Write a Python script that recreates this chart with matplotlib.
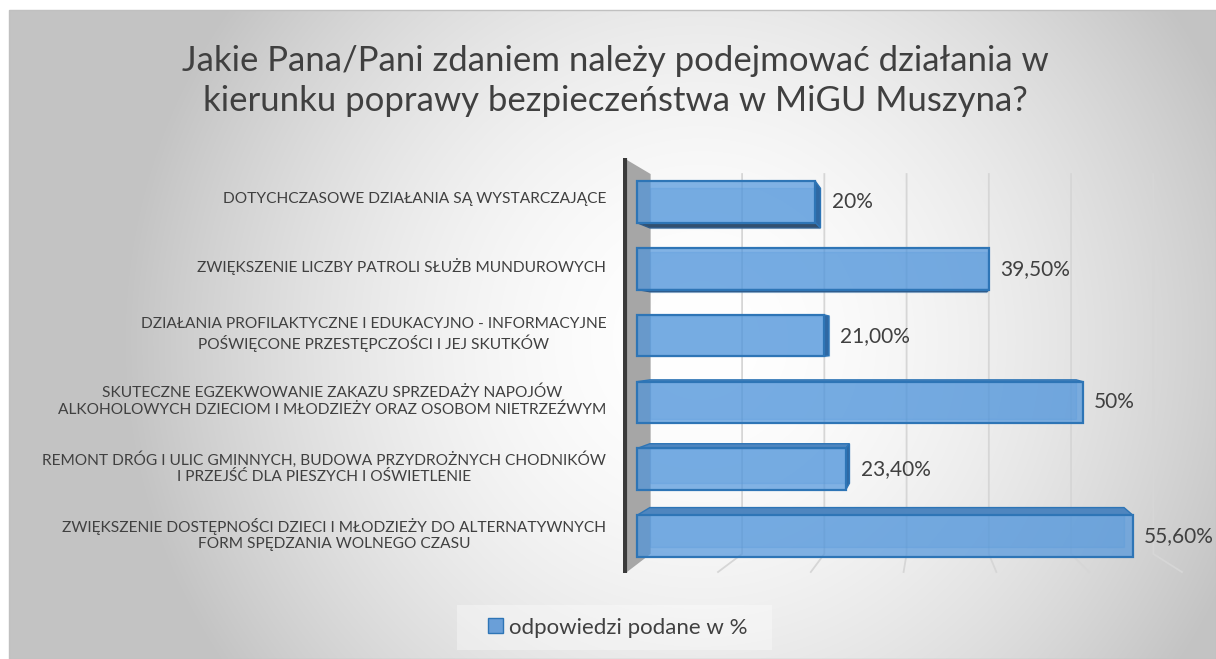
import numpy as np
import matplotlib.pyplot as plt
from matplotlib.patches import Polygon, Rectangle, Patch

categories = [
    'DOTYCHCZASOWE DZIAŁANIA SĄ WYSTARCZAJĄCE',
    'ZWIĘKSZENIE LICZBY PATROLI SŁUŻB MUNDUROWYCH',
    'DZIAŁANIA PROFILAKTYCZNE I EDUKACYJNO - INFORMACYJNE\nPOŚWIĘCONE PRZESTĘPCZOŚCI I JEJ SKUTKÓW',
    'SKUTECZNE EGZEKWOWANIE ZAKAZU SPRZEDAŻY NAPOJÓW\nALKOHOLOWYCH DZIECIOM I MŁODZIEŻY ORAZ OSOBOM NIETRZEŹWYM',
    'REMONT DRÓG I ULIC GMINNYCH, BUDOWA PRZYDROŻNYCH CHODNIKÓW\nI PRZEJŚĆ DLA PIESZYCH I OŚWIETLENIE',
    'ZWIĘKSZENIE DOSTĘPNOŚCI DZIECI I MŁODZIEŻY DO ALTERNATYWNYCH\nFORM SPĘDZANIA WOLNEGO CZASU',
]
values = [20.0, 39.5, 21.0, 50.0, 23.4, 55.6]
value_labels = ['20%', '39,50%', '21,00%', '50%', '23,40%', '55,60%']
grid_ticks = [10, 20, 30, 40, 50, 60]
series_name = 'odpowiedzi podane w %'
title = ('Jakie Pana/Pani zdaniem należy podejmować działania w\n'
         'kierunku poprawy bezpieczeństwa w MiGU Muszyna?')

W, H = 1216, 659
TXT = '#404040'
plt.rcParams['font.family'] = ['Lato', 'DejaVu Sans']

fig = plt.figure(figsize=(W / 100, H / 100), dpi=100)

# background: radial grey gradient, white margin top/left
bg = fig.add_axes([0, 0, 1, 1])
bg.set_xlim(0, W)
bg.set_ylim(H, 0)
bg.axis('off')
yy, xx = np.mgrid[0:H, 0:W]
t = np.clip(np.hypot(xx - 700, yy - 340) / 580, 0, 1) ** 1.8
shade = (255 - 60 * t) / 255
shade[:10, :] = 1
shade[:, :9] = 1
bg.imshow(np.dstack([shade] * 3), extent=(0, W, H, 0), aspect='auto', interpolation='bilinear')
bg.add_patch(Rectangle((9, 10), W - 9, H - 10, fill=False, ec='#c0c0c0', lw=1))
bg.add_patch(Rectangle((457, 605), 315, 45, fc='white', alpha=0.35, ec='none'))

# plot area, data units: % along x, category index along y
ax = fig.add_axes([623 / W, 1 - 590 / H, (W - 623) / W, 440 / H])
ax.patch.set_alpha(0)
for sp in ax.spines.values():
    sp.set_visible(False)


def px2v(px):
    return (px - 637) / 8.92


def py2c(py):
    return (py - 202) / 66.8


ax.set_xlim(px2v(623), px2v(W))
ax.set_ylim(py2c(590), py2c(150))
ax.set_xticks([])

VX, VY = px2v(930), py2c(340)


def proj(x, y, s):
    return VX + s * (x - VX), VY + s * (y - VY)


S_WALL, S_BACK, S_FLOOR = 0.922, 0.956, 1.04

# side wall
wx, wt, wb = px2v(627), py2c(160), py2c(572)
bt = proj(wx, wt, S_WALL)
bb = proj(wx, wb, S_WALL)
ax.add_patch(Polygon([(wx, wt), bt, bb, (wx, wb)], closed=True, fc='#a6a6a6', ec='none', zorder=2))
ax.plot([px2v(625), px2v(625)], [py2c(158), py2c(573)], color='#3a3a3a', lw=3, zorder=2.5,
        solid_capstyle='butt')

# gridlines on back wall and floor
for g in grid_ticks:
    x_top, y_top = proj(g, wt, S_WALL)
    x_bot, y_bot = proj(g, wb, S_WALL)
    x_fr = proj(g, wb, S_FLOOR)[0]
    ax.plot([x_top, x_bot, x_fr], [y_top, y_bot, wb], color='#d6d6d6', lw=1.3, zorder=1)

# 3D bars
h = 0.62
for i, v in enumerate(values):
    y0, y1 = i - h / 2, i + h / 2
    F = [(0, y0), (v, y0), (v, y1), (0, y1)]
    B = [proj(x, y, S_BACK) for x, y in F]
    ax.add_patch(Polygon(B, closed=True, fc='#5b9bd5', alpha=0.25, ec='#5b9bd5', lw=1, zorder=3))
    if B[0][1] < y0:
        ax.add_patch(Polygon([F[0], F[1], B[1], B[0]], closed=True, fc='#4f86bf', ec='#2e75b6',
                             lw=1, zorder=4))
    if B[3][1] > y1:
        ax.add_patch(Polygon([F[3], F[2], B[2], B[3]], closed=True, fc='#33506f', ec='#2e5a88',
                             lw=1, zorder=4))
    if B[1][0] > v:
        ax.add_patch(Polygon([F[1], F[2], B[2], B[1]], closed=True, fc='#2f68a3', ec='#2e75b6',
                             lw=1, zorder=4))
    ax.add_patch(Polygon(F, closed=True, fc='#4e94dc', alpha=0.7, ec='none', zorder=5))
    ax.add_patch(Polygon(F, closed=True, fill=False, ec='#2e75b6', lw=1.6, zorder=6))
    ax.annotate(value_labels[i], xy=(max(v, B[1][0]), i), xytext=(8, 0), textcoords='offset points',
                ha='left', va='center', fontsize=15, color=TXT, zorder=7)

ax.set_yticks(np.arange(len(categories)) - 0.06, categories)
ax.tick_params(axis='y', length=0, pad=12, labelsize=11.2, labelcolor=TXT)
for lbl in ax.get_yticklabels():
    lbl.set_multialignment('center')
    lbl.set_linespacing(1.2)

fig.text(615 / W, 1 - 81 / H, title, ha='center', va='center', fontsize=25, color=TXT,
         linespacing=1.3)

fig.legend(handles=[Patch(fc='#6a9fd8', ec='#2e75b6')], labels=[series_name], loc='center',
           bbox_to_anchor=(618 / W, 1 - 627.5 / H), frameon=False, fontsize=16,
           handlelength=0.65, handleheight=0.65, handletextpad=0.3, labelcolor=TXT)

fig.savefig('out.png', dpi=100)
